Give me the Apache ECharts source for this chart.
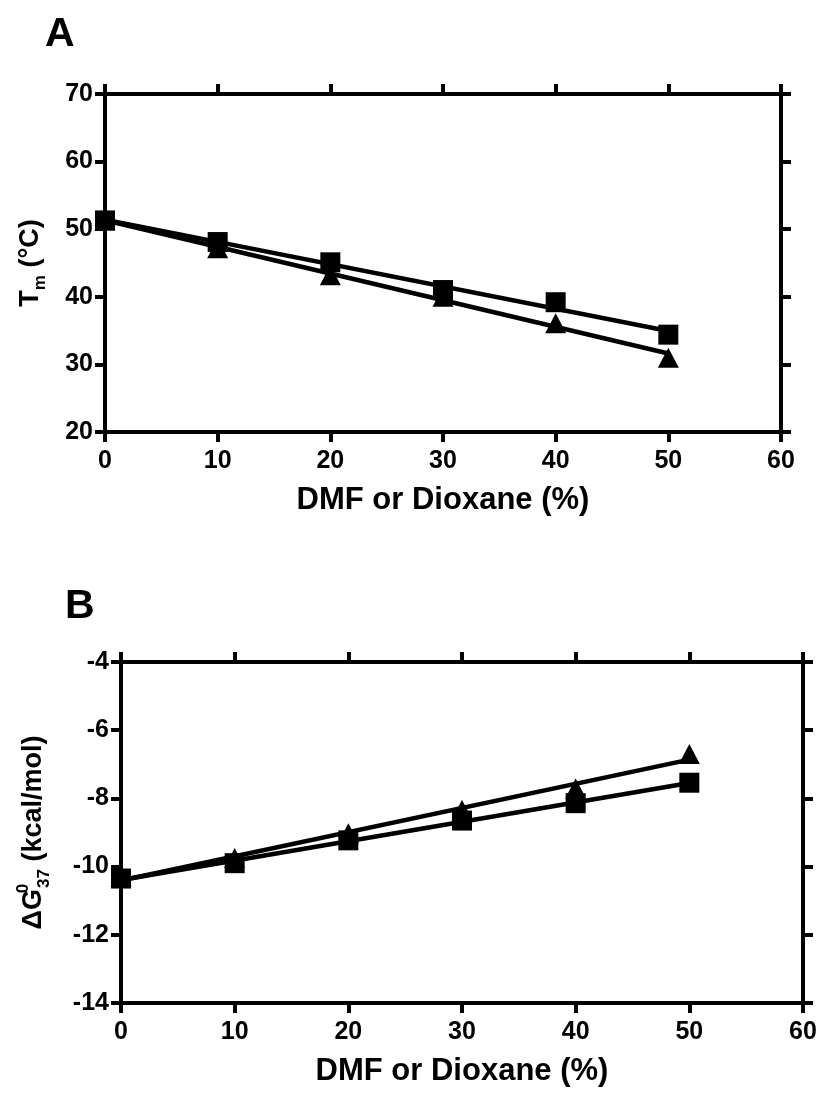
<!DOCTYPE html>
<html>
<head>
<meta charset="utf-8">
<script src="https://cdn.jsdelivr.net/npm/echarts@6.0.0/dist/echarts.min.js"></script>
<style>
  html, body { margin: 0; padding: 0; background: #fff; }
  #chart { width: 827px; height: 1097px; }
</style>
</head>
<body>
<div id="chart"></div>
<script>
// ---- data ----
const xPct = [0, 10, 20, 30, 40, 50];
const tmTriangle = [51.3, 47.2, 43.2, 40.0, 36.1, 31.0];
const tmSquare = [51.3, 48.1, 45.1, 41.0, 39.2, 34.4];
const dgTriangle = [-10.3, -9.75, -9.02, -8.33, -7.71, -6.70];
const dgSquare = [-10.35, -9.9, -9.23, -8.65, -8.14, -7.54];

const xRange = { min: 0, max: 60, step: 10 };
const tmRange = { min: 20, max: 70, step: 10 };
const dgRange = { min: -14, max: -4, step: 2 };

const xTitle = 'DMF or Dioxane (%)';
const panelLabels = ['A', 'B'];

// ---- helpers ----
function pairs(xs, ys) { return xs.map((x, i) => [x, ys[i]]); }
function fitLine(xs, ys) {
  const n = xs.length;
  const mx = xs.reduce((a, b) => a + b, 0) / n;
  const my = ys.reduce((a, b) => a + b, 0) / n;
  let sxy = 0, sxx = 0;
  for (let i = 0; i < n; i++) { sxy += (xs[i] - mx) * (ys[i] - my); sxx += (xs[i] - mx) ** 2; }
  const b = sxy / sxx, a = my - b * mx;
  const x0 = xs[0], x1 = xs[n - 1];
  return [[x0, a + b * x0], [x1, a + b * x1]];
}

const FONT = 'Liberation Sans, Arial, sans-serif';
const black = '#000';
const axisLine = { show: true, onZero: false, lineStyle: { color: black, width: 4 } };
const axisTick = { show: true, inside: false, length: 10, lineStyle: { color: black, width: 4 } };
const tickLabel = { fontSize: 25, fontWeight: 'bold', fontFamily: FONT, color: black };

function xAxes(grid) {
  return [
    {
      gridIndex: grid, type: 'value', position: 'bottom',
      min: xRange.min, max: xRange.max, interval: xRange.step,
      axisLine, axisTick, splitLine: { show: false },
      axisLabel: Object.assign({ margin: 17 }, tickLabel),
      name: xTitle, nameLocation: 'middle', nameGap: 53,
      nameTextStyle: { fontSize: 31, fontWeight: 'bold', fontFamily: FONT, color: black }
    },
    {
      gridIndex: grid, type: 'value', position: 'top',
      min: xRange.min, max: xRange.max, interval: xRange.step,
      axisLine, axisTick, splitLine: { show: false }, axisLabel: { show: false }
    }
  ];
}
function yAxes(grid, range, name, nameGap, rich) {
  return [
    {
      gridIndex: grid, type: 'value', position: 'left',
      min: range.min, max: range.max, interval: range.step,
      axisLine, axisTick, splitLine: { show: false },
      axisLabel: Object.assign({ margin: 12 }, tickLabel),
      name: name, nameLocation: 'middle', nameRotate: 90, nameGap: nameGap,
      nameTextStyle: { fontSize: 27, fontWeight: 'bold', fontFamily: FONT, color: black, rich: rich }
    },
    {
      gridIndex: grid, type: 'value', position: 'right',
      min: range.min, max: range.max, interval: range.step,
      axisLine, axisTick, splitLine: { show: false }, axisLabel: { show: false }
    }
  ];
}

const base = { fontWeight: 'bold', fontFamily: FONT, color: black };
const richA = {
  a: Object.assign({ fontSize: 27, lineHeight: 36, verticalAlign: 'middle' }, base),
  sub: Object.assign({ fontSize: 17, lineHeight: 17, verticalAlign: 'bottom' }, base)
};
const richB = {
  a: Object.assign({ fontSize: 27, lineHeight: 38, verticalAlign: 'middle' }, base),
  sup: Object.assign({ fontSize: 17, lineHeight: 17, verticalAlign: 'top', width: 1 }, base),
  sub: Object.assign({ fontSize: 17, lineHeight: 17, verticalAlign: 'bottom' }, base)
};

function panelSeries(xi, yi, tri, sq) {
  return [
    { type: 'line', xAxisIndex: xi, yAxisIndex: yi, data: fitLine(xPct, tri), symbol: 'none',
      lineStyle: { color: black, width: 4.5, opacity: 1 }, z: 2, silent: true },
    { type: 'line', xAxisIndex: xi, yAxisIndex: yi, data: fitLine(xPct, sq), symbol: 'none',
      lineStyle: { color: black, width: 4.5, opacity: 1 }, z: 2, silent: true },
    { type: 'scatter', xAxisIndex: xi, yAxisIndex: yi, data: pairs(xPct, tri), symbol: 'triangle',
      symbolSize: [21, 20], itemStyle: { color: black, opacity: 1 }, z: 3 },
    { type: 'scatter', xAxisIndex: xi, yAxisIndex: yi, data: pairs(xPct, sq), symbol: 'rect',
      symbolSize: 20, itemStyle: { color: black, opacity: 1 }, z: 4 }
  ];
}

const option = {
  backgroundColor: '#fff',
  animation: false,
  title: [
    { text: panelLabels[0], left: 40, top: 9, textStyle: { fontSize: 41, fontWeight: 'bold', fontFamily: FONT, color: black } },
    { text: panelLabels[1], left: 60, top: 581, textStyle: { fontSize: 41, fontWeight: 'bold', fontFamily: FONT, color: black } }
  ],
  grid: [
    { left: 105, top: 94, width: 676, height: 338 },
    { left: 121, top: 662, width: 682, height: 341 }
  ],
  xAxis: xAxes(0).concat(xAxes(1)),
  yAxis: yAxes(0, tmRange, '{a|T}{sub|m}{a| (°C)}', 56, richA)
    .concat(yAxes(1, dgRange, '{a|ΔG}{sup|0}{sub|37}{a| (kcal/mol)}', 68, richB)),
  series: panelSeries(0, 0, tmTriangle, tmSquare).concat(panelSeries(2, 2, dgTriangle, dgSquare))
};

const chart = echarts.init(document.getElementById('chart'), null, { renderer: 'canvas' });
chart.setOption(option);
</script>
</body>
</html>
